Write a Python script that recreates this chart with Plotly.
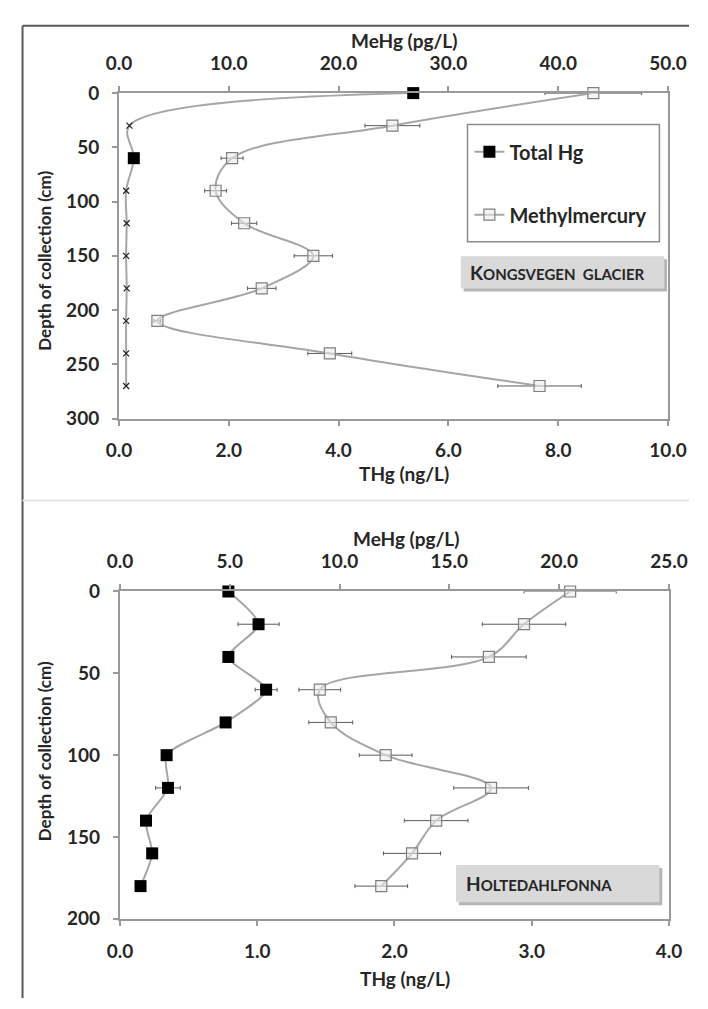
import plotly.graph_objects as go

W, H = 708, 1009

# ---------------- data ----------------
# Kongsvegen glacier (top panel)
kv_depth = [0, 30, 60, 90, 120, 150, 180, 210, 240, 270]
kv_thg = [5.36, 0.19, 0.27, 0.13, 0.14, 0.13, 0.14, 0.13, 0.13, 0.13]          # ng/L
kv_mehg = [43.2, 24.9, 10.3, 8.8, 11.4, 17.7, 13.0, 3.5, 19.2, 38.3]            # pg/L
kv_mehg_err = [4.4, 2.5, 1.0, 1.0, 1.15, 1.75, 1.3, 0.3, 2.0, 3.8]

# Holtedahlfonna (bottom panel)
hf_depth = [0, 20, 40, 60, 80, 100, 120, 140, 160, 180]
hf_thg = [0.79, 1.01, 0.79, 1.065, 0.77, 0.34, 0.35, 0.19, 0.235, 0.15]         # ng/L
hf_thg_err = [0, 0.15, 0, 0.08, 0, 0, 0.09, 0, 0, 0]
hf_mehg = [20.5, 18.4, 16.8, 9.1, 9.6, 12.1, 16.9, 14.4, 13.3, 11.9]             # pg/L
hf_mehg_err = [2.1, 1.9, 1.7, 0.95, 1.0, 1.2, 1.7, 1.45, 1.3, 1.2]

# ---------------- helpers ----------------
def px(x):
    return x / W

def py(y):
    return 1 - y / H

FONT = "Lato, 'Open Sans', sans-serif"
LINE = "#a6a6a6"
AX = "#9a9a9a"
TXT = "#262626"
ERR = "#5a5a5a"

# top-panel Total Hg: black squares only where they are visible (large values)
kv_sq = [v if v > 0.25 else None for v in kv_thg]

fig = go.Figure()

# --- top panel ---
fig.add_trace(go.Scatter(
    x=kv_thg, y=kv_depth, xaxis="x", yaxis="y", name="Total Hg line",
    mode="lines", line=dict(color=LINE, width=2, shape="spline", smoothing=1),
    cliponaxis=False, showlegend=False, hoverinfo="skip"))
fig.add_trace(go.Scatter(
    x=kv_thg, y=kv_depth, xaxis="x", yaxis="y", name="crosses",
    mode="markers", marker=dict(symbol="x-thin", size=6, line=dict(color="#222222", width=1.2)),
    cliponaxis=False, showlegend=False))
fig.add_trace(go.Scatter(
    x=kv_sq, y=kv_depth, xaxis="x", yaxis="y", name="Total Hg",
    mode="lines+markers", line=dict(color=LINE, width=2),
    marker=dict(symbol="square", size=12, color="#000000", line=dict(width=0)),
    cliponaxis=False, legendgroup="a", showlegend=True))
fig.add_trace(go.Scatter(
    x=kv_mehg, y=kv_depth, xaxis="x2", yaxis="y", name="Methylmercury",
    mode="lines+markers", line=dict(color=LINE, width=2, shape="spline", smoothing=1),
    marker=dict(symbol="square", size=11, color="rgba(235,235,235,0.55)",
                line=dict(color="#7f7f7f", width=1.2)),
    error_x=dict(type="data", array=kv_mehg_err, color=ERR, thickness=1, width=2),
    cliponaxis=False, legendgroup="b", showlegend=True))

# --- bottom panel ---
fig.add_trace(go.Scatter(
    x=hf_thg, y=hf_depth, xaxis="x3", yaxis="y2", name="Total Hg",
    mode="lines+markers", line=dict(color=LINE, width=2, shape="spline", smoothing=0.7),
    marker=dict(symbol="square", size=12, color="#000000", line=dict(width=0)),
    error_x=dict(type="data", array=hf_thg_err, color=ERR, thickness=1, width=2),
    cliponaxis=False, showlegend=False))
fig.add_trace(go.Scatter(
    x=hf_mehg, y=hf_depth, xaxis="x4", yaxis="y2", name="Methylmercury",
    mode="lines+markers", line=dict(color=LINE, width=2, shape="spline", smoothing=1),
    marker=dict(symbol="square", size=11, color="rgba(235,235,235,0.55)",
                line=dict(color="#7f7f7f", width=1.2)),
    error_x=dict(type="data", array=hf_mehg_err, color=ERR, thickness=1, width=2),
    cliponaxis=False, showlegend=False))

tickfont = dict(family=FONT, size=19, color=TXT, weight="bold")
common = dict(showline=True, linecolor=AX, linewidth=2, ticks="outside", ticklen=5,
              tickcolor=AX, tickwidth=1.5, showgrid=False, zeroline=False,
              tickfont=tickfont, ticklabelstandoff=9)

top_xd = [px(111), px(686)]
top_yd = [py(416), py(83)]
bot_xd = [px(112), px(687)]
bot_yd = [py(928), py(593)]

fig.update_layout(
    width=W, height=H, margin=dict(l=0, r=0, t=0, b=0),
    paper_bgcolor="white", plot_bgcolor="white",
    xaxis=dict(domain=top_xd, range=[0, 10], dtick=2, tickformat=".1f", anchor="y", **common),
    xaxis2=dict(domain=top_xd, range=[0, 50], dtick=10, tickformat=".1f", anchor="y",
                overlaying="x", side="top", **common),
    yaxis=dict(domain=top_yd, range=[300, 0], dtick=50, anchor="x", mirror=True, **common),
    xaxis3=dict(domain=bot_xd, range=[0, 4], dtick=1, tickformat=".1f", anchor="y2", **common),
    xaxis4=dict(domain=bot_xd, range=[0, 25], dtick=5, tickformat=".1f", anchor="y2",
                overlaying="x3", side="top", **common),
    yaxis2=dict(domain=bot_yd, range=[200, 0], dtick=50, anchor="x3", mirror=True, **common),
    legend=dict(x=px(478), y=py(123), xanchor="left", yanchor="top",
                borderwidth=0, bgcolor="rgba(0,0,0,0)",
                font=dict(family=FONT, size=20, color=TXT, weight="bold"),
                tracegroupgap=34, itemwidth=30),
)

shapes = [
    # outer frame
    dict(type="line", xref="paper", yref="paper", x0=px(10), x1=px(10), y0=py(14), y1=0,
         line=dict(color="#595959", width=2)),
    dict(type="line", xref="paper", yref="paper", x0=px(10), x1=1, y0=py(14), y1=py(14),
         line=dict(color="#595959", width=2)),
    dict(type="line", xref="paper", yref="paper", x0=px(10), x1=1, y0=py(500), y1=py(500),
         line=dict(color="#e3e3e3", width=2)),
    # legend frame
    dict(type="rect", xref="paper", yref="paper", x0=px(476), x1=px(677), y0=py(235), y1=py(115),
         fillcolor="white", line=dict(color="#8c8c8c", width=1.5), layer="above"),
    # label box shadows and boxes
    dict(type="rect", xref="paper", yref="paper", x0=px(472), x1=px(685), y0=py(286), y1=py(253),
         fillcolor="#b5b5b5", line=dict(width=0), layer="above"),
    dict(type="rect", xref="paper", yref="paper", x0=px(469), x1=px(682), y0=py(283), y1=py(250),
         fillcolor="#d9d9d9", line=dict(width=0), layer="above"),
    dict(type="rect", xref="paper", yref="paper", x0=px(467), x1=px(680), y0=py(914), y1=py(876),
         fillcolor="#b5b5b5", line=dict(width=0), layer="above"),
    dict(type="rect", xref="paper", yref="paper", x0=px(464), x1=px(677), y0=py(911), y1=py(873),
         fillcolor="#d9d9d9", line=dict(width=0), layer="above"),
]
fig.update_layout(shapes=shapes)

def ann(text, x, y, size=18, angle=0, xanchor="center", bold=True):
    return dict(text=text, x=px(x), y=py(y), xref="paper", yref="paper", showarrow=False,
                xanchor=xanchor, yanchor="middle", textangle=angle,
                font=dict(family=FONT, size=size, color=TXT, weight="bold" if bold else "normal"))

sc = "<span style='font-size:15px'>"
annotations = [
    ann("MeHg (pg/L)", 410, 29, size=19),
    ann("THg (ng/L)", 410, 472, size=19),
    ann("MeHg (pg/L)", 412, 539, size=19),
    ann("THg (ng/L)", 411, 989, size=19),
    ann("Depth of collection (cm)", 33, 255, size=17, angle=-90),
    ann("Depth of collection (cm)", 33, 757, size=17, angle=-90),
    ann("K" + sc + "ONGSVEGEN  GLACIER</span>", 477, 267, size=19, xanchor="left"),
    ann("H" + sc + "OLTEDAHLFONNA</span>", 472, 892, size=19, xanchor="left"),
]
fig.update_layout(annotations=annotations)

fig.write_html("out.html")
